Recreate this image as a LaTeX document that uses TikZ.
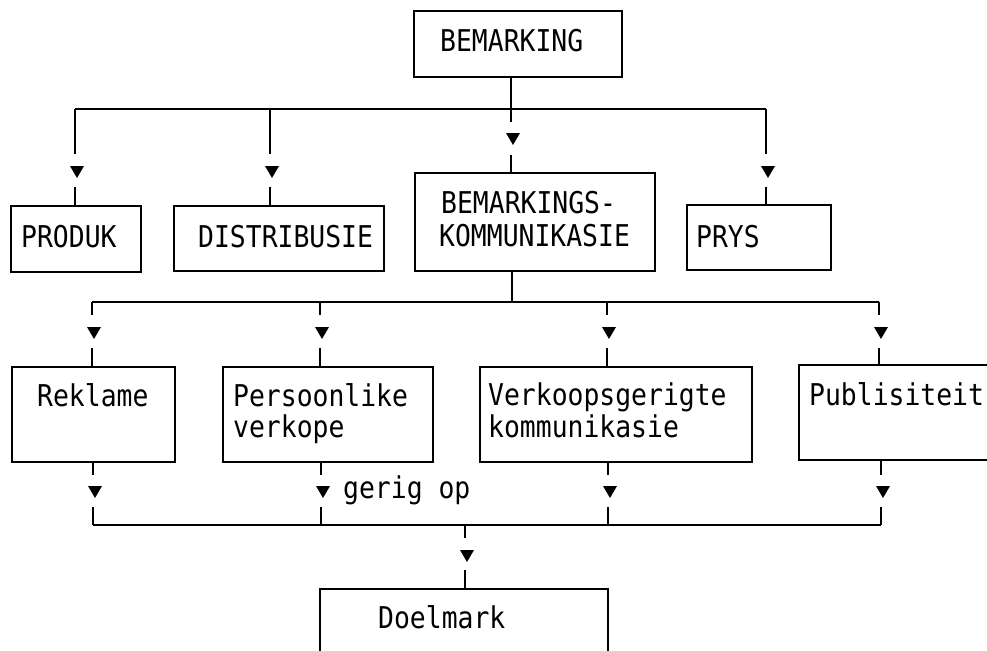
\documentclass[tikz,border=0pt]{standalone}
\usepackage{fontspec}
\newfontfamily\monofont[FakeStretch=0.88]{DejaVu Sans Mono}
\tikzset{
  x=1pt,y=-1pt,
  box/.style={draw,line width=1.5pt,inner sep=0pt,outer sep=0pt},
  lbl/.style={anchor=base west,inner sep=0pt,font=\monofont\fontsize{30}{32}\selectfont},
  ln/.style={line width=1.5pt},
}
\newcommand\tri[2]{\fill (#1-7,#2) -- (#1+7,#2) -- (#1,#2+12) -- cycle;}
\newcommand\boxat[5]{\node[box,minimum width={#4-#2},minimum height={#5-#3}] (#1) at ({(#2+#4)/2},{(#3+#5)/2}) {};}
\begin{document}
\begin{tikzpicture}
\useasboundingbox (0,0) rectangle (987,650);
\begin{scope}
\clip (0,0) rectangle (987,650);
% boxes
\boxat{top}{414}{11}{622}{77}
\boxat{produk}{11}{206}{141}{272}
\boxat{distr}{174}{206}{384}{271}
\boxat{komm}{415}{173}{655}{271}
\boxat{prys}{687}{205}{831}{270}
\boxat{rek}{12}{367}{175}{462}
\boxat{pers}{223}{367}{433}{462}
\boxat{verk}{480}{367}{752}{462}
\boxat{pub}{799}{365}{1010}{460}
\boxat{doel}{320}{589}{608}{700}
\end{scope}
% texts
\node[lbl] (t1) at (440,52) {BEMARKING};
\node[lbl] (t2) at (21,247) {PRODUK};
\node[lbl] (t3) at (198,247) {DISTRIBUSIE};
\node[lbl] (t4) at (441,213) {BEMARKINGS-};
\node[lbl] (t5) at (439,246) {KOMMUNIKASIE};
\node[lbl] (t6) at (696,247) {PRYS};
\node[lbl] (t7) at (37,406) {Reklame};
\node[lbl] (t8) at (233,406) {Persoonlike};
\node[lbl] (t9) at (233,437) {verkope};
\node[lbl] (t10) at (488,405) {Verkoopsgerigte};
\node[lbl] (t11) at (488,437) {kommunikasie};
\node[lbl] (t12) at (809,405) {Publisiteit};
\node[lbl] (t13) at (343,498) {gerig op};
\node[lbl] (t14) at (378,628) {Doelmark};
% bus coordinates
\coordinate (b1l) at (75,109);
\coordinate (b1r) at (766,109);
\coordinate (b2l) at (92,302);
\coordinate (b2r) at (879,302);
\coordinate (b3l) at (93,525);
\coordinate (b3r) at (881,525);
% top level
\draw[ln] (b1l) -- (b1r);
\draw[ln] (top.south -| 511,0) -- (511,122);
\tri{513}{133}
\draw[ln] (511,155) -- (komm.north -| 511,0);
\foreach \x in {75,270,766}{
  \draw[ln] (\x,109) -- (\x,154);
  \tri{\x+2}{166}
}
\draw[ln] (75,187) -- (produk.north -| 75,0);
\draw[ln] (270,187) -- (distr.north -| 270,0);
\draw[ln] (766,187) -- (prys.north -| 766,0);
% second level
\draw[ln] (komm.south -| 512,0) -- (512,302);
\draw[ln] (b2l) -- (b2r);
\foreach \x in {92,320,607,879}{
  \draw[ln] (\x,302) -- (\x,315);
  \tri{\x+2}{327}
}
\draw[ln] (92,348) -- (rek.north -| 92,0);
\draw[ln] (320,348) -- (pers.north -| 320,0);
\draw[ln] (607,348) -- (verk.north -| 607,0);
\draw[ln] (879,348) -- (pub.north -| 879,0);
% third level
\draw[ln] (rek.south -| 93,0) -- (93,475);
\draw[ln] (pers.south -| 321,0) -- (321,475);
\draw[ln] (verk.south -| 608,0) -- (608,475);
\draw[ln] (pub.south -| 881,0) -- (881,475);
\foreach \x in {93,321,608,881}{
  \tri{\x+2}{486}
  \draw[ln] (\x,507) -- (\x,525);
}
\draw[ln] (b3l) -- (b3r);
\draw[ln] (465,525) -- (465,538);
\tri{467}{550}
\draw[ln] (465,570) -- (doel.north -| 465,0);
\end{tikzpicture}
\end{document}
